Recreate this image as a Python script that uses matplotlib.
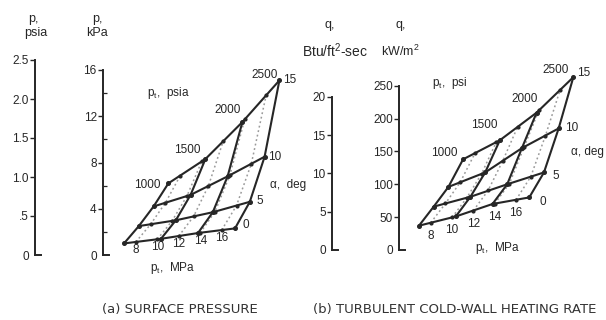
import matplotlib
matplotlib.use('Agg')
import matplotlib.pyplot as plt

# ---------------- data ----------------
alpha_deg = [0, 5, 10, 15]              # angle of attack lines
pt_psi = [1000, 1500, 2000, 2500]       # solid total-pressure lines, psia
pt_mpa = [8, 10, 12, 14, 16]            # dotted total-pressure lines, MPa
mpa_labels = ['8', '10', '12', '14', '16']

# (a) surface pressure, kPa  (rows: alpha, cols: pt_psi)
p_kpa = [[1.0, 1.4, 1.9, 2.3],
         [2.5, 3.0, 3.7, 4.6],
         [4.2, 5.2, 6.8, 8.5],
         [6.2, 8.3, 11.5, 15.1]]
# (a) along the MPa lines (rows: alpha, cols: pt_mpa)
p_kpa_mpa = [[1.13, 1.36, 1.64, 1.92, 2.16],
             [2.66, 2.95, 3.34, 3.76, 4.28],
             [4.52, 5.10, 5.97, 6.90, 7.89],
             [6.87, 8.09, 9.84, 11.72, 13.81]]

# (b) turbulent cold-wall heating rate, kW/m^2
q_kw = [[37, 51, 70, 80],
        [66, 81, 100, 118],
        [96, 118, 155, 185],
        [138, 167, 209, 263]]
q_kw_mpa = [[41.5, 49.6, 60.0, 70.6, 76.4],
            [70.8, 79.5, 90.6, 101.0, 111.6],
            [103.0, 115.8, 135.8, 156.9, 174.0],
            [147.0, 164.0, 187.0, 212.3, 243.7]]

psia_ticks = [0, 0.5, 1.0, 1.5, 2.0, 2.5]
psia_labels = ['0', '.5', '1.0', '1.5', '2.0', '2.5']
kpa_ticks = [0, 4, 8, 12, 16]
kpa_minor = [2, 6, 10, 14]
btu_ticks = [0, 5, 10, 15, 20]
kw_ticks = [0, 50, 100, 150, 200, 250]

# ---------------- layout ----------------
W, H = 606, 320
INK = '#262626'
GREY = '#9a9a9a'
PSI_PER_MPA = 145.038
SHIFT = 40.0   # carpet shift, psi per degree
FS = 8.5

plt.rcParams['font.family'] = ['Liberation Sans', 'DejaVu Sans']
fig = plt.figure(figsize=(W / 100, H / 100), dpi=100)
fig.patch.set_facecolor('white')


def ax_px(x0, ytop, x1, ybot):
    return fig.add_axes([x0 / W, 1 - ybot / H, (x1 - x0) / W, (ybot - ytop) / H])


def ftext(x, y, s, **kw):
    kw.setdefault('color', INK)
    kw.setdefault('fontsize', FS)
    fig.text(x / W, 1 - y / H, s, **kw)


def scale_axis(x, ytop, ybot, lim, ticks, labels, minor=None):
    ax = ax_px(x, ytop, x + 6, ybot)
    ax.set_xlim(0, 1)
    ax.set_ylim(*lim)
    ax.patch.set_alpha(0)
    for s in ['top', 'right']:
        ax.spines[s].set_visible(False)
    for s in ['left', 'bottom']:
        ax.spines[s].set_color(INK)
        ax.spines[s].set_linewidth(1.4)
    ax.set_xticks([])
    ax.set_yticks(ticks)
    ax.set_yticklabels(labels)
    ax.tick_params(axis='y', direction='out', length=3.5, width=1.0,
                   pad=1.0, labelsize=FS, colors=INK)
    if minor:
        ax.set_yticks(minor, minor=True)
        ax.tick_params(axis='y', which='minor', direction='in', length=3,
                       width=0.9, colors=INK)
    ax.yaxis.get_major_ticks()[0].tick1line.set_visible(False)
    return ax


def carpet(x_left, x_right, ytop, ybot, ylim, x0, scale, grid, grid_mpa):
    ax = ax_px(x_left, ytop, x_right, ybot)
    ax.set_xlim(1000 + (x_left - x0) / scale, 1000 + (x_right - x0) / scale)
    ax.set_ylim(*ylim)
    ax.axis('off')
    kw = dict(color=INK, lw=1.5, clip_on=False, solid_capstyle='round')
    for j, m in enumerate(pt_mpa):
        xs = [m * PSI_PER_MPA + SHIFT * a for a in alpha_deg]
        ys = [grid_mpa[i][j] for i in range(len(alpha_deg))]
        ax.plot(xs, ys, color=GREY, lw=1.1, ls=(0, (1.2, 1.8)), clip_on=False)
    for i, a in enumerate(alpha_deg):
        ax.plot([pt + SHIFT * a for pt in pt_psi], grid[i], **kw)
    for j, pt in enumerate(pt_psi):
        ax.plot([pt + SHIFT * a for a in alpha_deg],
                [grid[i][j] for i in range(len(alpha_deg))], **kw)
    for j, m in enumerate(pt_mpa):
        xs = [m * PSI_PER_MPA + SHIFT * a for a in alpha_deg]
        ys = [grid_mpa[i][j] for i in range(len(alpha_deg))]
        ax.plot(xs, ys, 'o', color=INK, ms=2.0, clip_on=False)
    for i, a in enumerate(alpha_deg):
        ax.plot([pt + SHIFT * a for pt in pt_psi], grid[i], 'o', color=INK,
                ms=2.6, clip_on=False)
    return ax


def note(ax, x, y, s, dx, dy, ha, va='center'):
    ax.annotate(s, (x, y), xytext=(dx * 0.72, dy * 0.72), textcoords='offset points',
                ha=ha, va=va, fontsize=FS, color=INK, annotation_clip=False)


# ---------------- (a) surface pressure ----------------
scale_axis(35, 60, 255, (0, 2.5), psia_ticks, psia_labels)
scale_axis(103, 70, 255, (0, 16), kpa_ticks, [str(t) for t in kpa_ticks], kpa_minor)
axa = carpet(103, 310, 70, 255, (0, 16), 124, 0.074, p_kpa, p_kpa_mpa)

ptoff_a = [(-8, -2), (-5, 9), (-2, 12), (-2, 5)]
for j, pt in enumerate(pt_psi):
    dx, dy = ptoff_a[j]
    note(axa, pt + SHIFT * 15, p_kpa[3][j], str(pt), dx, dy, 'right')
aoff_a = [(7, 3), (7, 1), (3, 0), (4, 0)]
for i, a in enumerate(alpha_deg):
    dx, dy = aoff_a[i]
    note(axa, pt_psi[-1] + SHIFT * a, p_kpa[i][-1], str(a), dx, dy, 'left')
for j, m in enumerate(pt_mpa):
    note(axa, m * PSI_PER_MPA, p_kpa_mpa[0][j], mpa_labels[j], 0, -2, 'center', 'top')

ftext(33, 19, 'p,', ha='center', va='center', fontsize=9)
ftext(36, 33, 'psia', ha='center', va='center', fontsize=9)
ftext(97, 19, 'p,', ha='center', va='center', fontsize=9)
ftext(97, 33, 'kPa', ha='center', va='center', fontsize=9)
ftext(147, 93, r'p$_{\mathregular{t}}$,  psia', ha='left', va='center')
ftext(270, 185, 'α,  deg', ha='left', va='center')
ftext(150, 268, r'p$_{\mathregular{t}}$,  MPa', ha='left', va='center')
ftext(102, 310, '(a) SURFACE PRESSURE', ha='left', va='center', fontsize=9.5,
      family='DejaVu Sans', color='#333333')

# ---------------- (b) heating rate ----------------
scale_axis(332, 96.7, 250, (0, 20), btu_ticks, [str(t) for t in btu_ticks])
scale_axis(399, 85.7, 250, (0, 250), kw_ticks, [str(t) for t in kw_ticks])
axb = carpet(399, 606, 85.7, 250, (0, 250), 419, 0.0735, q_kw, q_kw_mpa)

ptoff_b = [(-6, 6), (-2, 15), (1, 14), (-5, 7)]
for j, pt in enumerate(pt_psi):
    dx, dy = ptoff_b[j]
    note(axb, pt + SHIFT * 15, q_kw[3][j], str(pt), dx, dy, 'right')
aoff_b = [(10, -5), (9, -4), (6, 0), (4, 4)]
for i, a in enumerate(alpha_deg):
    dx, dy = aoff_b[i]
    note(axb, pt_psi[-1] + SHIFT * a, q_kw[i][-1], str(a), dx, dy, 'left')
for j, m in enumerate(pt_mpa):
    note(axb, m * PSI_PER_MPA, q_kw_mpa[0][j], mpa_labels[j], 0, -7, 'center', 'top')

ftext(330, 25, 'q,', ha='center', va='center', fontsize=9)
ftext(335, 51, r'Btu/ft$^{\mathregular{2}}$-sec', ha='center', va='center', fontsize=10)
ftext(401, 25, 'q,', ha='center', va='center', fontsize=9)
ftext(400, 51, r'kW/m$^{\mathregular{2}}$', ha='center', va='center', fontsize=9)
ftext(432, 83, r'p$_{\mathregular{t}}$,  psi', ha='left', va='center')
ftext(571, 152, 'α, deg', ha='left', va='center')
ftext(475, 248, r'p$_{\mathregular{t}}$,  MPa', ha='left', va='center')
ftext(313, 310, '(b) TURBULENT COLD-WALL HEATING RATE', ha='left', va='center',
      fontsize=9.5, family='DejaVu Sans', color='#333333')

fig.savefig('out.png', dpi=100, facecolor='white')
